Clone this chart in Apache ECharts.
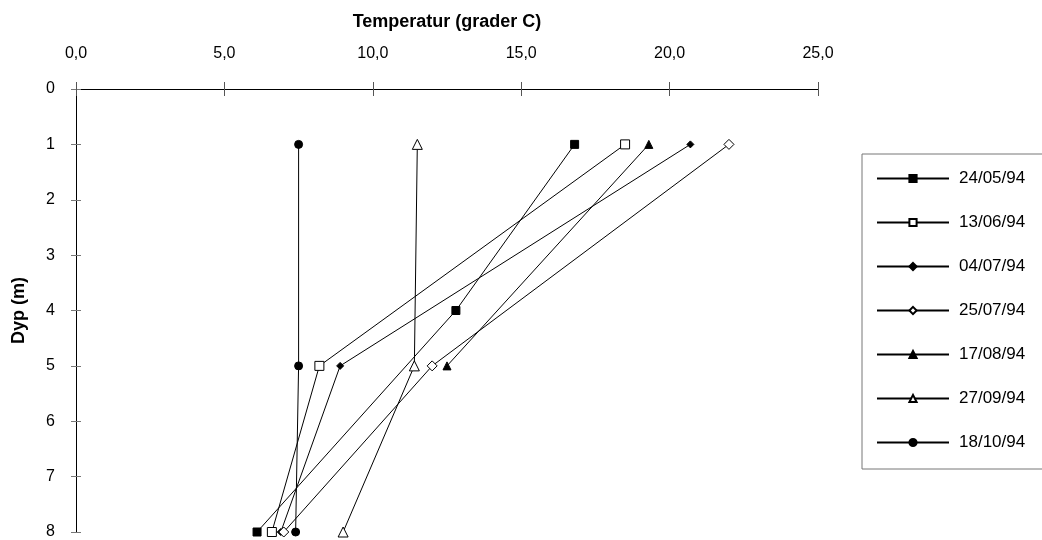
<!DOCTYPE html>
<html>
<head>
<meta charset="utf-8">
<script src="https://cdn.jsdelivr.net/npm/echarts@6/dist/echarts.min.js"></script>
<style>html,body{margin:0;padding:0;background:#fff}#c{width:1042px;height:540px}</style>
</head>
<body>
<div id="c"></div>
<script>
const seriesNames = ['24/05/94','13/06/94','04/07/94','25/07/94','17/08/94','27/09/94','18/10/94'];
const depths_2405 = [1, 4, 8];
const temps_2405 = [16.8, 12.8, 6.1];
const depths_1306 = [1, 5, 8];
const temps_1306 = [18.5, 8.2, 6.6];
const depths_0407 = [1, 5, 8];
const temps_0407 = [20.7, 8.9, 6.9];
const depths_2507 = [1, 5, 8];
const temps_2507 = [22.0, 12.0, 7.0];
const depths_1708 = [1, 5];
const temps_1708 = [19.3, 12.5];
const depths_2709 = [1, 5, 8];
const temps_2709 = [11.5, 11.4, 9.0];
const depths_1810 = [1, 5, 8];
const temps_1810 = [7.5, 7.5, 7.4];
const xTitle = 'Temperatur (grader C)';
const yTitle = 'Dyp (m)';

const allTemps = [temps_2405, temps_1306, temps_0407, temps_2507, temps_1708, temps_2709, temps_1810];
const allDepths = [depths_2405, depths_1306, depths_0407, depths_2507, depths_1708, depths_2709, depths_1810];
const styles = [
  {symbol: 'rect', size: 8, fill: '#000'},
  {symbol: 'rect', size: 9, fill: '#fff'},
  {symbol: 'diamond', size: 7, fill: '#000'},
  {symbol: 'diamond', size: 10, fill: '#fff'},
  {symbol: 'triangle', size: 8, fill: '#000'},
  {symbol: 'triangle', size: 10, fill: '#fff'},
  {symbol: 'circle', size: 8, fill: '#000'}
];
const font = '"Liberation Sans", Arial, sans-serif';

const series = seriesNames.map((name, i) => ({
  name: name,
  type: 'line',
  xAxisIndex: 0,
  yAxisIndex: 0,
  data: allTemps[i].map((t, j) => [t, allDepths[i][j]]),
  symbol: styles[i].symbol,
  symbolSize: styles[i].size,
  showAllSymbol: true,
  clip: false,
  lineStyle: {color: '#000', width: 1},
  itemStyle: {color: styles[i].fill, borderColor: '#000', borderWidth: 1},
  emphasis: {disabled: true},
  animation: false
}));

const chart = echarts.init(document.getElementById('c'));
chart.setOption({
  backgroundColor: '#fff',
  animation: false,
  textStyle: {fontFamily: font},
  grid: {left: 76, right: 224, top: 89, bottom: 8, containLabel: false},
  legend: {
    orient: 'vertical',
    left: 862,
    top: 154,
    padding: [16, 40, 18, 14],
    itemWidth: 72,
    itemHeight: 9,
    itemGap: 27,
    borderColor: '#777',
    borderWidth: 1,
    textStyle: {fontFamily: font, fontSize: 17, color: '#000', padding: [0, 0, 0, 5]},
    data: seriesNames
  },
  xAxis: [{
    type: 'value',
    position: 'top',
    min: 0, max: 25, interval: 5,
    name: xTitle,
    nameLocation: 'middle',
    nameGap: 58,
    nameTextStyle: {fontFamily: font, fontSize: 18, fontWeight: 'bold', color: '#000'},
    axisLine: {show: true, lineStyle: {color: '#000', width: 1}},
    axisTick: {show: true, inside: false, length: 7, lineStyle: {color: '#555'}},
    axisLabel: {margin: 27, fontSize: 16, color: '#000', fontFamily: font,
      formatter: v => v.toFixed(1).replace('.', ',')},
    splitLine: {show: false}
  }, {
    type: 'value',
    position: 'top',
    min: 0, max: 25, interval: 5,
    axisLine: {show: false},
    axisTick: {show: true, inside: true, length: 7, lineStyle: {color: '#555'}},
    axisLabel: {show: false},
    splitLine: {show: false}
  }],
  yAxis: [{
    type: 'value',
    inverse: true,
    min: 0, max: 8, interval: 1,
    name: yTitle,
    nameLocation: 'middle',
    nameGap: 48,
    nameRotate: 90,
    nameTextStyle: {fontFamily: font, fontSize: 18, fontWeight: 'bold', color: '#000'},
    axisLine: {show: true, lineStyle: {color: '#000', width: 1}},
    axisTick: {show: true, inside: false, length: 5, lineStyle: {color: '#777'}},
    axisLabel: {margin: 21, fontSize: 16, color: '#000', fontFamily: font},
    splitLine: {show: false}
  }, {
    type: 'value',
    inverse: true,
    position: 'left',
    min: 0, max: 8, interval: 1,
    axisLine: {show: false},
    axisTick: {show: true, inside: true, length: 5, lineStyle: {color: '#777'}},
    axisLabel: {show: false},
    splitLine: {show: false}
  }],
  series: series
});
</script>
</body>
</html>
